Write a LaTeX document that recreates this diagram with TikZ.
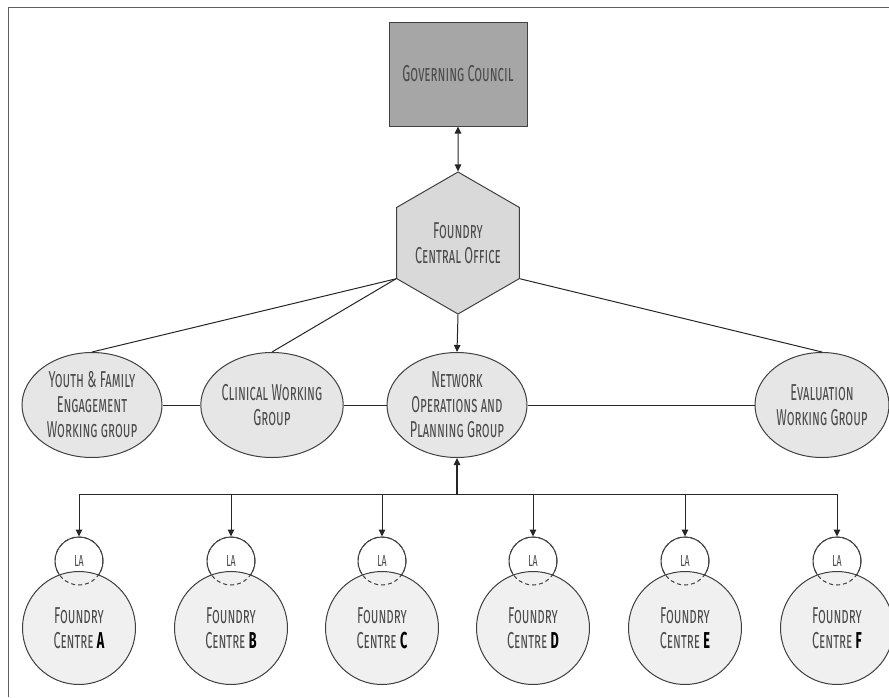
\documentclass[tikz,border=0pt]{standalone}
\usepackage{fontspec}
\usetikzlibrary{shapes.geometric,arrows.meta}
\newfontfamily\dfont[FakeStretch=0.55,Letters=SmallCaps]{Fira Sans}
\definecolor{txt}{HTML}{4A4A4A}
\definecolor{edge}{HTML}{404040}
\definecolor{gcfill}{HTML}{A6A6A6}
\definecolor{hexfill}{HTML}{D9D9D9}
\definecolor{ellfill}{HTML}{E6E6E6}
\definecolor{cfill}{HTML}{F0F0F0}
\definecolor{frame}{HTML}{606060}
\tikzset{
  lbl/.style={text=txt, font=\dfont\fontsize{23pt}{25pt}\selectfont, align=center, inner sep=0pt},
  gcbox/.style={lbl, draw=edge, line width=1pt, fill=gcfill, minimum width=138pt, minimum height=104pt},
  hexbox/.style={lbl, regular polygon, regular polygon sides=6, shape border rotate=30, draw=edge, line width=1pt, fill=hexfill, minimum size=142pt},
  wgbox/.style={lbl, ellipse, draw=edge, line width=1pt, fill=ellfill, minimum width=140pt, minimum height=105pt},
  labox/.style={lbl, circle, draw=edge, line width=1pt, fill=white, minimum size=48pt, font=\dfont\fontsize{16pt}{18pt}\selectfont},
  ladash/.style={circle, draw=edge, line width=1pt, dash pattern=on 4pt off 3pt, minimum size=48pt, inner sep=0pt},
  centbox/.style={lbl, circle, draw=edge, line width=1pt, fill=cfill, minimum size=113pt},
  conn/.style={draw=black!85, line width=1pt},
  arr/.style={conn, -{Triangle[length=7pt,width=6.5pt]}},
  darr/.style={conn, {Triangle[length=7pt,width=6.5pt]}-{Triangle[length=7pt,width=6.5pt]}},
}
\begin{document}
\begin{tikzpicture}[x=1pt,y=-1pt]
\useasboundingbox (0,0) rectangle (889,697);
\draw[frame, line width=1.5pt] (8.5,697) -- (8.5,7.5) -- (889,7.5);

\node[gcbox] (gc) at (458,74) {Governing Council};
\node[hexbox] (fco) at (458,243) {Foundry\\Central Office};

\node[wgbox] (yf) at (92,405) {Youth \& Family\\Engagement\\Working group};
\node[wgbox] (cw) at (272,405) {Clinical Working\\Group};
\node[wgbox] (nop) at (457,405) {Network\\Operations and\\Planning Group};
\node[wgbox, minimum width=134pt] (ev) at (822,405) {Evaluation\\Working Group};

\draw[darr] (gc.south) -- (fco.90);
\draw[arr] (fco.270) -- (nop.north);
\draw[conn] (fco.210) -- (yf.north);
\draw[conn] (fco.210) -- (cw.north);
\draw[conn] (fco.330) -- (ev.north);
\draw[conn] (yf.east) -- (cw.west);
\draw[conn] (cw.east) -- (nop.west);
\draw[conn] (nop.east) -- (ev.west);

\coordinate (busm) at (457,494);
\coordinate (busl) at (79,494);
\coordinate (busr) at (837,494);
\draw[conn] (busl) -- (busr);
\draw[arr, line width=1.6pt] (busm) -- (nop.south);

\foreach \x/\n/\l in {79/a/A, 231/b/B, 382/c/C, 533/d/D, 685/e/E, 837/f/F}{
  \coordinate (drop\n) at (\x,494);
  \node[labox] (la\n) at (\x,561) {LA};
  \node[centbox] (fc\n) at (\x,628) {Foundry\\Centre {\bfseries\color{black}\l}};
  \node[ladash] (lad\n) at (\x,561) {};
  \draw[arr] (drop\n) -- (la\n.north);
}
\end{tikzpicture}
\end{document}
